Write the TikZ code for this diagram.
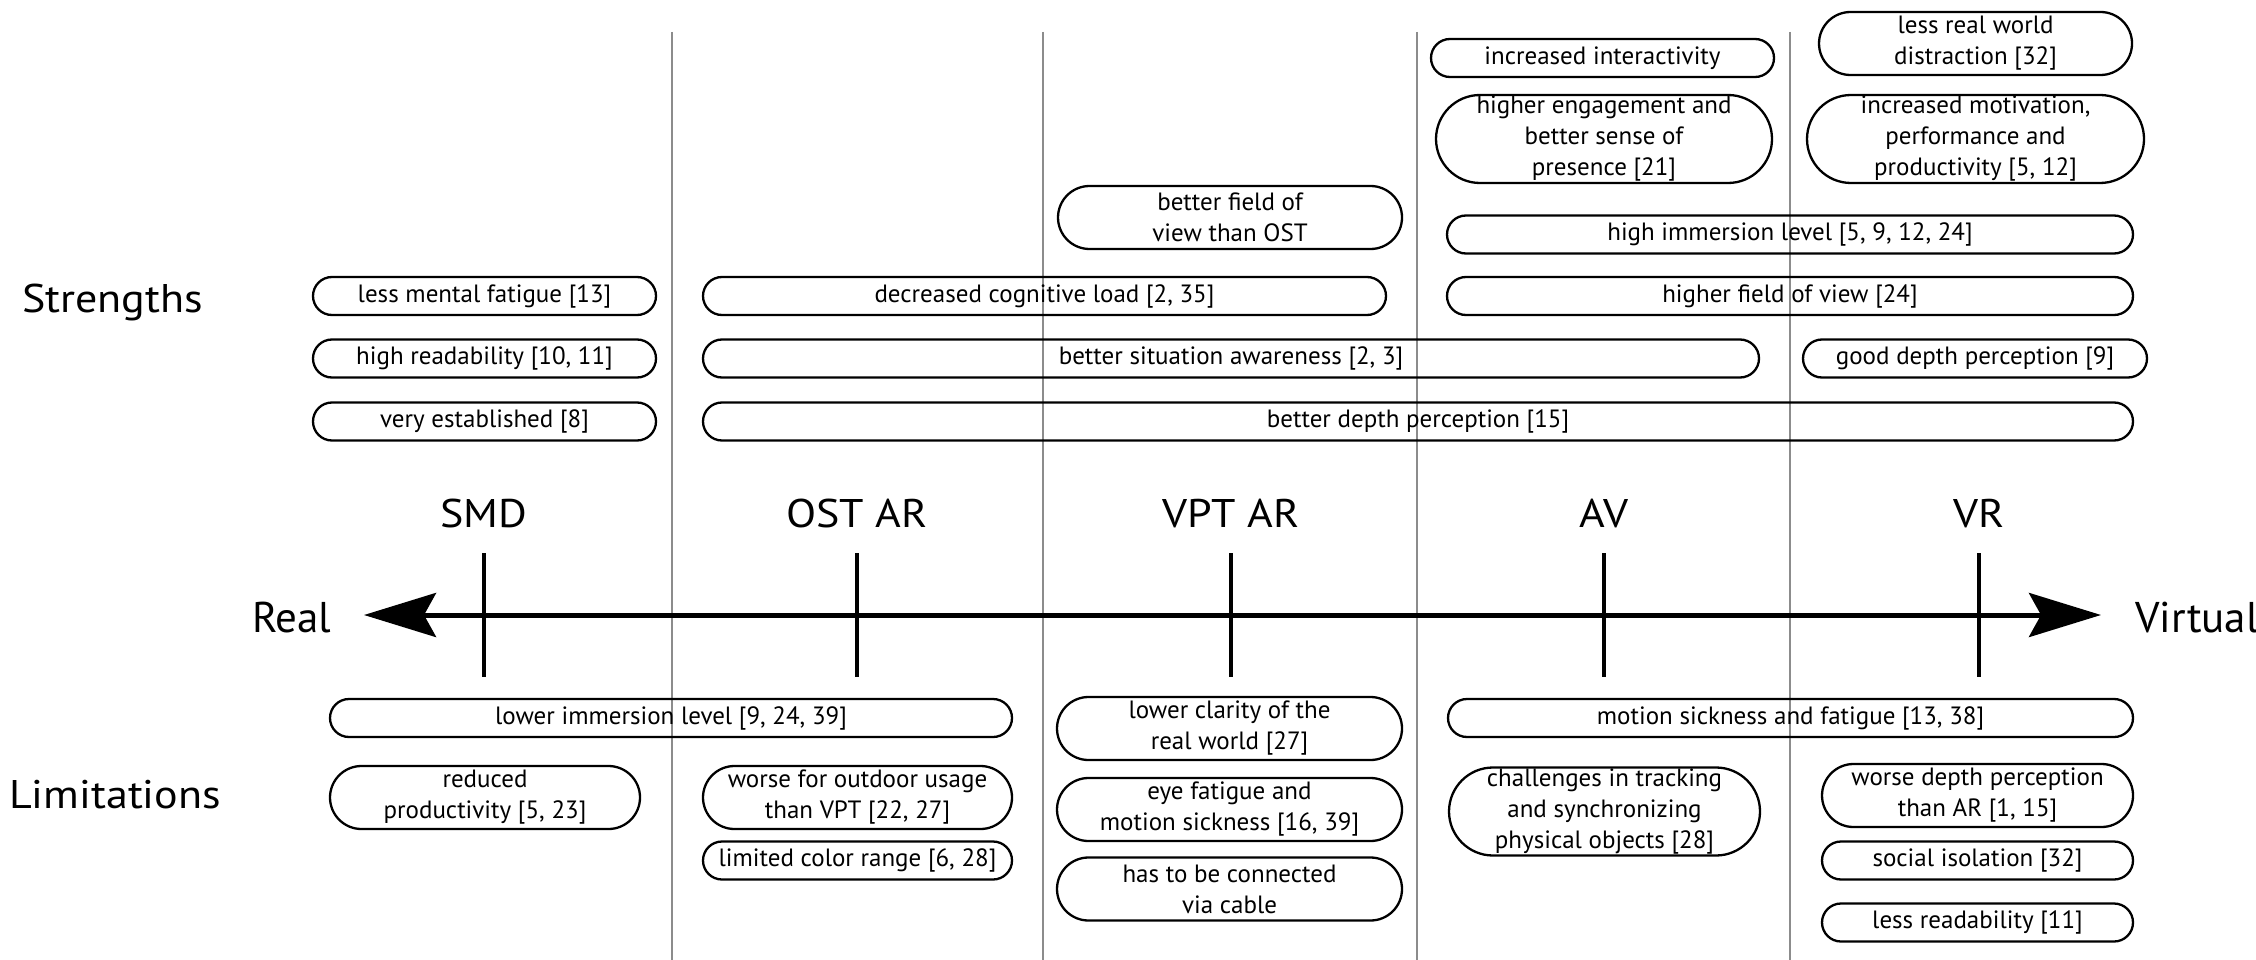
\documentclass[tikz,border=0pt]{standalone}
\usepackage{fontspec}
\setmainfont{PT Sans}
\newfontfamily\headfont[FakeStretch=1.1]{PT Sans}
\usetikzlibrary{shapes.misc,arrows.meta}

\begin{document}
\begin{tikzpicture}[x=1pt,y=-1pt,
	  pill/.style={draw,rounded rectangle,line width=2.3pt,inner xsep=0pt,inner ysep=0pt,
	    align=center,font=\fontsize{25}{31}\selectfont},
	  one/.style={pill,minimum height=38pt},
	  two/.style={pill,minimum height=63pt},
	  three/.style={pill,minimum height=88pt}]
	  \tikzstyle{sep} = [draw=black!45,line width=2pt]
	  \tikzstyle{tick} = [draw=black,line width=4.5pt]
	  \tikzstyle{head} = [font=\headfont\fontsize{40}{44}\selectfont,anchor=base,inner sep=0pt]
	  \tikzstyle{side} = [font=\fontsize{43}{48}\selectfont,anchor=base west,inner sep=0pt]
	  \useasboundingbox (0,0) rectangle (2256,960);
	  \foreach \x in {672,1043,1417,1790}
	    \draw[sep] (\x,32) -- (\x,960);
	  \node (str) [head,anchor=base west] at (22,312) {Strengths};
	  \node (lim) [head,anchor=base west] at (9,808) {Limitations};
	  \node (real) [side] at (252,632) {Real};
	  \node (virt) [side] at (2135,632) {Virtual};
	  \coordinate (real_tip) at (364,615);
	  \coordinate (virt_tip) at (2101,615);
	  \draw[line width=5pt,{Stealth[length=72pt,width=44pt,inset=12pt]}-{Stealth[length=72pt,width=44pt,inset=12pt]}] (real_tip) -- (virt_tip);
	  \foreach \x/\n/\t in {484/smd/SMD,857/ost/OST AR,1231/vpt/VPT AR,1604/av/AV,1979/vr/VR}
	  {
	    \node (\n) [head] at (\x,527) {\t};
	    \draw[tick] (\x,553) -- (\x,677);
	  }
	  \node (s_1) [one,minimum width=343pt] at (484.5,296) {less mental fatigue [13]};
	  \node (s_2) [one,minimum width=343pt] at (484.5,358.5) {high readability [10, 11]};
	  \node (s_3) [one,minimum width=343pt] at (484.5,421.5) {very established [8]};
	  \node (s_4) [one,minimum width=683pt] at (1044.5,296) {decreased cognitive load [2, 35]};
	  \node (s_5) [one,minimum width=1056pt] at (1231,358.5) {better situation awareness [2, 3]};
	  \node (s_6) [one,minimum width=1430pt] at (1418,421.5) {better depth perception [15]};
	  \node (s_7) [two,minimum width=344pt] at (1230,217.5) {better field of\\view than OST};
	  \node (s_8) [one,minimum width=343pt] at (1602.5,58) {increased interactivity};
	  \node (s_9) [three,minimum width=336pt] at (1604,139) {higher engagement and\\better sense of\\presence [21]};
	  \node (s_10) [one,minimum width=686pt] at (1790,234.5) {high immersion level [5, 9, 12, 24]};
	  \node (s_11) [one,minimum width=686pt] at (1790,296) {higher field of view [24]};
	  \node (s_12) [two,minimum width=313pt] at (1975.5,43.5) {less real world\\distraction [32]};
	  \node (s_13) [three,minimum width=337pt] at (1975.5,139) {increased motivation,\\performance and\\productivity [5, 12]};
	  \node (s_14) [one,minimum width=344pt] at (1975,358.5) {good depth perception [9]};
	  \node (l_1) [one,minimum width=682pt] at (671,718) {lower immersion level [9, 24, 39]};
	  \node (l_2) [two,minimum width=310pt] at (485,797.5) {reduced\\productivity [5, 23]};
	  \node (l_3) [two,minimum width=309pt] at (857.5,797.5) {worse for outdoor usage\\than VPT [22, 27]};
	  \node (l_4) [one,minimum width=309pt] at (857.5,860.5) {limited color range [6, 28]};
	  \node (l_5) [two,minimum width=345pt] at (1229.5,728.5) {lower clarity of the\\real world [27]};
	  \node (l_6) [two,minimum width=345pt] at (1229.5,809.5) {eye fatigue and\\motion sickness [16, 39]};
	  \node (l_7) [two,minimum width=345pt] at (1229.5,889) {has to be connected\\via cable};
	  \node (l_8) [one,minimum width=685pt] at (1790.5,718) {motion sickness and fatigue [13, 38]};
	  \node (l_9) [three,minimum width=311pt] at (1604.5,811.5) {challenges in tracking\\and synchronizing\\physical objects [28]};
	  \node (l_10) [two,minimum width=311pt] at (1977.5,795.5) {worse depth perception\\than AR [1, 15]};
	  \node (l_11) [one,minimum width=311pt] at (1977.5,860.5) {social isolation [32]};
	  \node (l_12) [one,minimum width=311pt] at (1977.5,922.5) {less readability [11]};
	\end{tikzpicture}
\end{document}
